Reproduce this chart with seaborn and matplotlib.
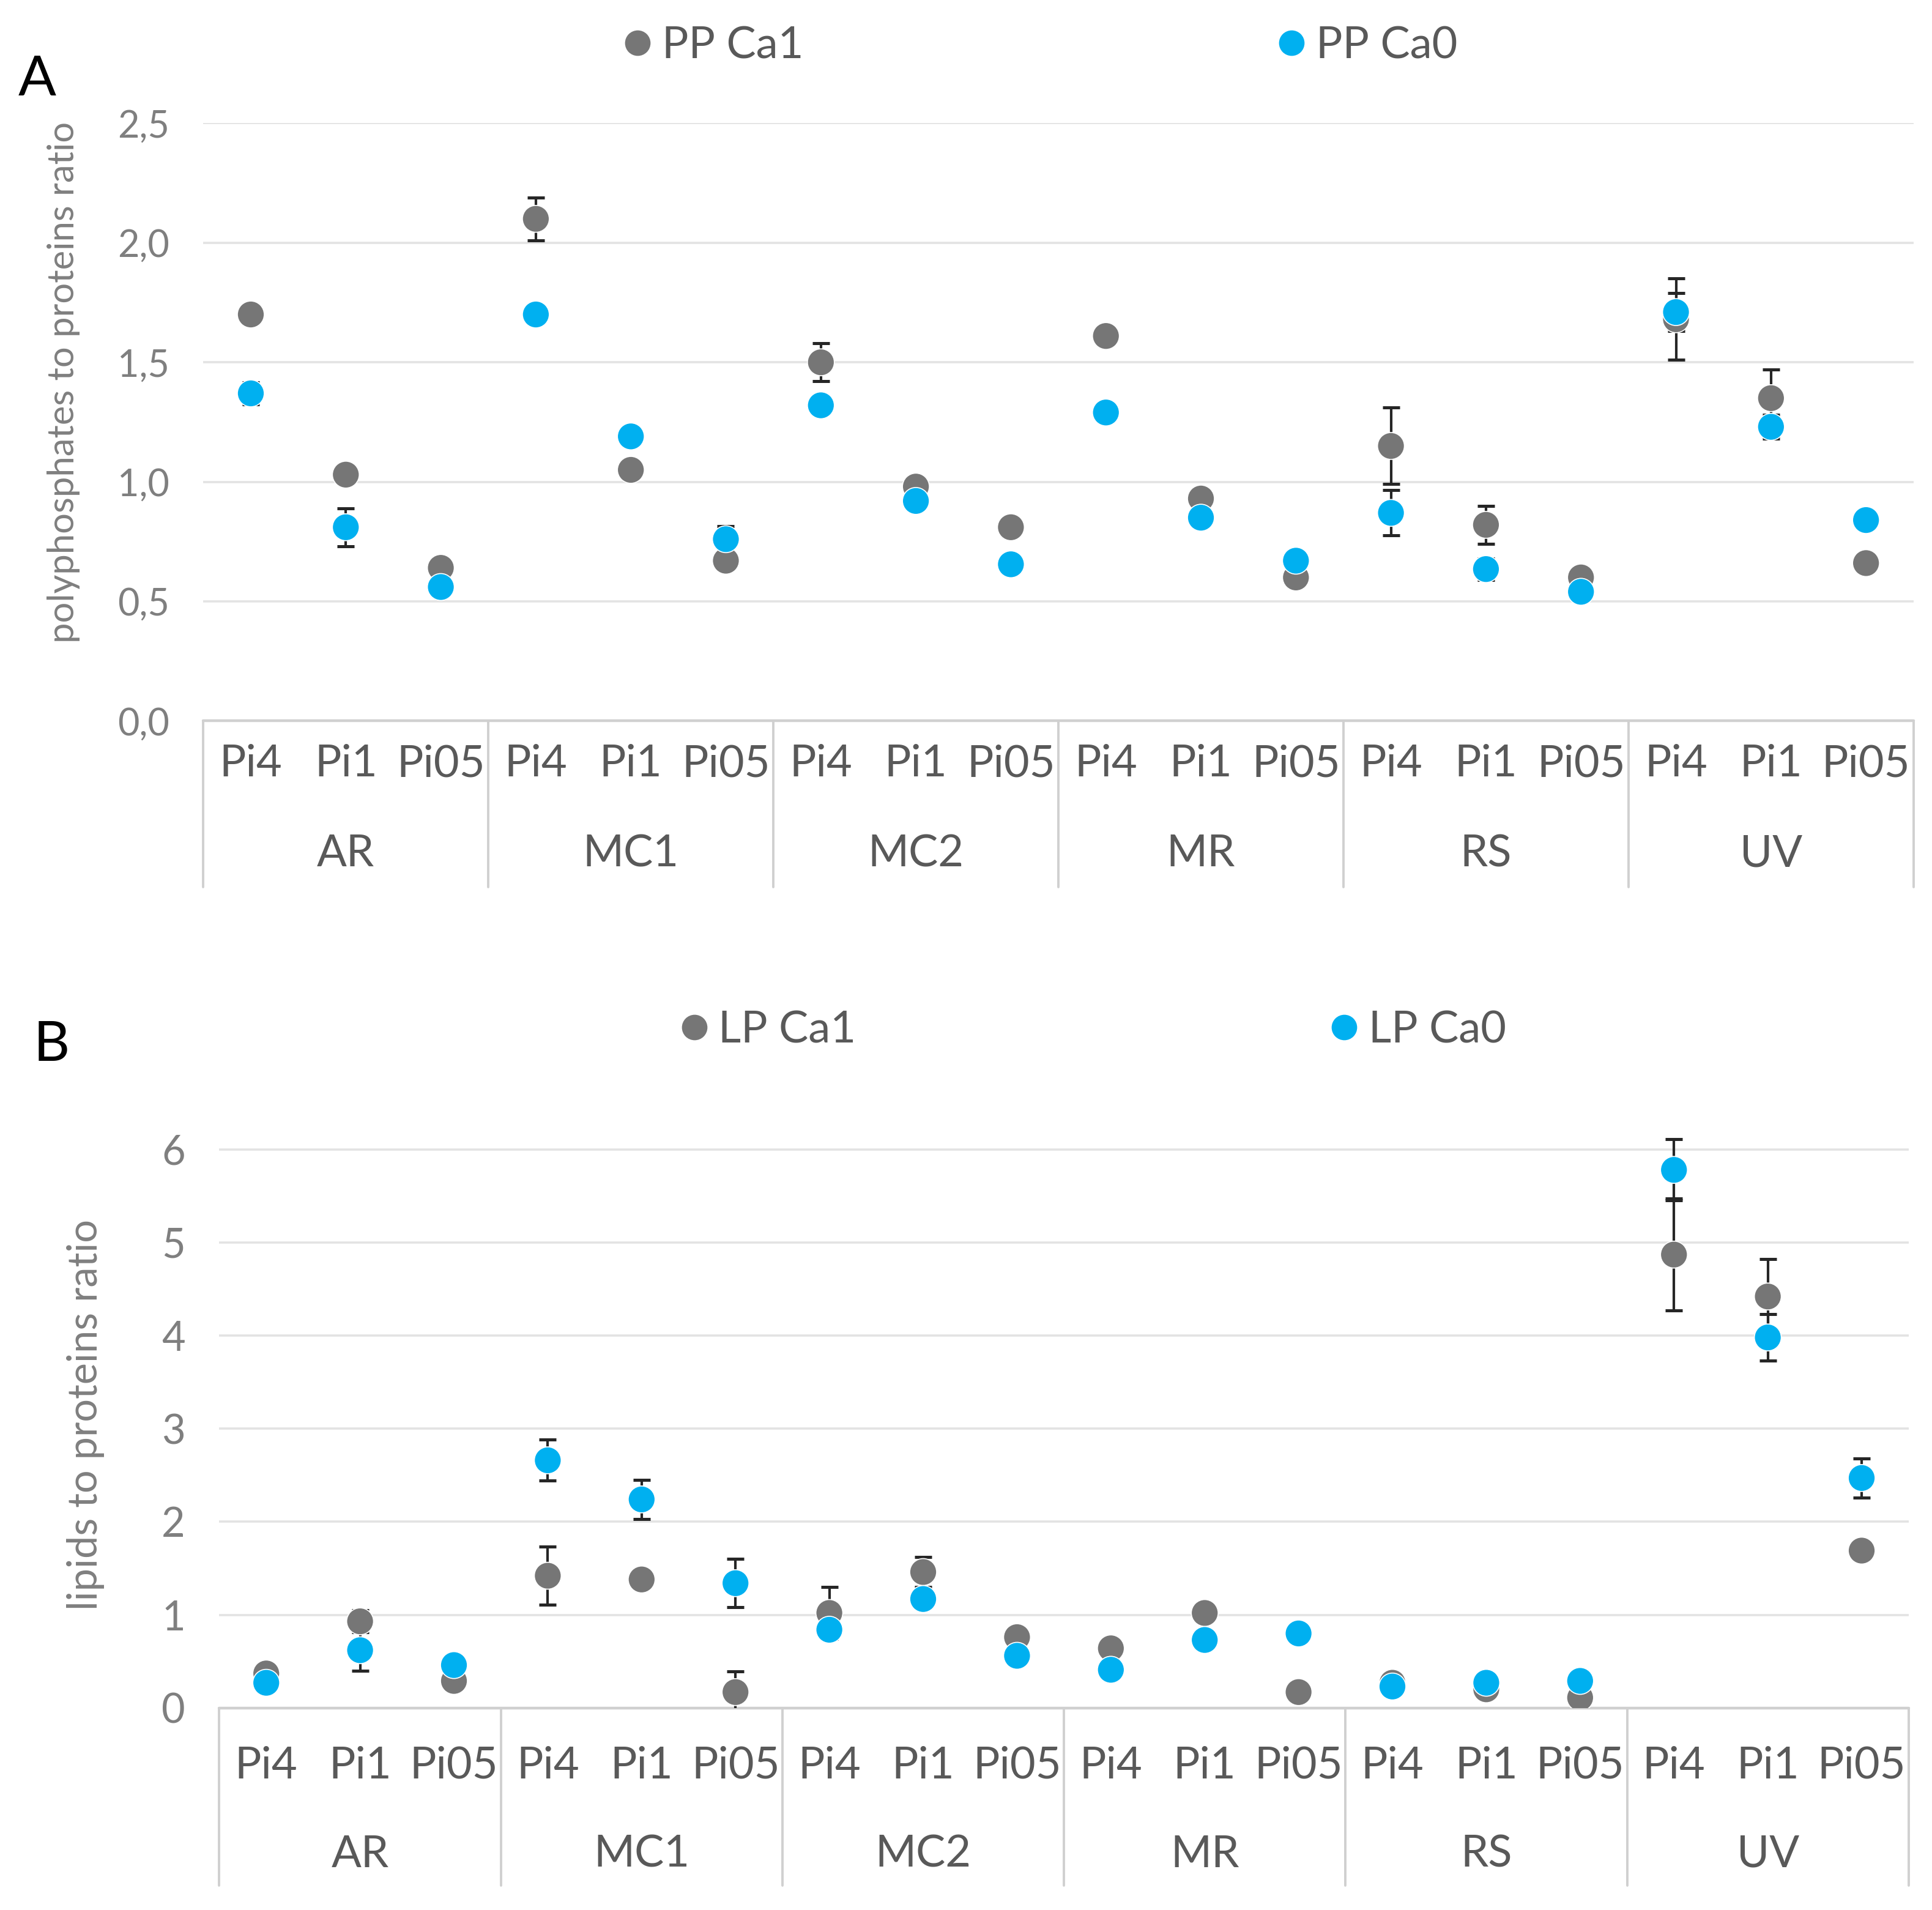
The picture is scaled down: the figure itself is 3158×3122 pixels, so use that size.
import numpy as np
import pandas as pd
import matplotlib
matplotlib.use("Agg")
import matplotlib.pyplot as plt
from matplotlib.lines import Line2D
import seaborn as sns

# categories
groups = ["AR", "MC1", "MC2", "MR", "RS", "UV"]
levels = ["Pi4", "Pi1", "Pi05"]

# panel A: polyphosphates to proteins ratio
pp_ca1 = [1.70, 1.03, 0.64, 2.10, 1.05, 0.67, 1.50, 0.98, 0.81,
          1.61, 0.93, 0.60, 1.15, 0.82, 0.60, 1.68, 1.35, 0.66]
pp_ca1_err = [0.03, 0.00, 0.00, 0.09, 0.00, 0.03, 0.08, 0.02, 0.02,
              0.00, 0.00, 0.00, 0.16, 0.08, 0.02, 0.17, 0.12, 0.00]
pp_ca0 = [1.37, 0.81, 0.56, 1.70, 1.19, 0.76, 1.32, 0.92, 0.655,
          1.29, 0.85, 0.67, 0.87, 0.635, 0.54, 1.71, 1.23, 0.84]
pp_ca0_err = [0.045, 0.08, 0.00, 0.00, 0.03, 0.055, 0.00, 0.00, 0.00,
              0.00, 0.00, 0.00, 0.095, 0.045, 0.00, 0.08, 0.05, 0.02]

# panel B: lipids to proteins ratio
lp_ca1 = [0.37, 0.93, 0.29, 1.42, 1.38, 0.17, 1.02, 1.46, 0.76,
          0.64, 1.02, 0.17, 0.27, 0.20, 0.11, 4.87, 4.42, 1.69]
lp_ca1_err = [0.05, 0.12, 0.00, 0.31, 0.05, 0.22, 0.28, 0.16, 0.03,
              0.00, 0.00, 0.00, 0.00, 0.00, 0.00, 0.60, 0.40, 0.00]
lp_ca0 = [0.27, 0.62, 0.46, 2.66, 2.24, 1.34, 0.84, 1.17, 0.56,
          0.41, 0.73, 0.80, 0.23, 0.27, 0.29, 5.78, 3.98, 2.47]
lp_ca0_err = [0.00, 0.22, 0.00, 0.22, 0.21, 0.26, 0.00, 0.00, 0.00,
              0.00, 0.00, 0.00, 0.00, 0.00, 0.00, 0.33, 0.25, 0.21]

GREY = "#767676"
CYAN = "#00b0f0"
TXT = "#595959"
TICK = "#7f7f7f"


def long_table(ca1, ca1_err, ca0, ca0_err, names):
    n = len(groups) * len(levels)
    rows = []
    for name, vals, errs in [(names[0], ca1, ca1_err), (names[1], ca0, ca0_err)]:
        for i in range(n):
            rows.append({"slot": i,
                         "group": groups[i // len(levels)],
                         "level": levels[i % len(levels)],
                         "series": name, "value": vals[i], "err": errs[i]})
    return pd.DataFrame(rows)


sns.set_theme(style="white")
plt.rcParams["font.family"] = ["Lato", "DejaVu Sans"]

fig = plt.figure(figsize=(15.79, 15.61), dpi=200)
W, H = 1568.0, 1550.0  # reference layout units


def draw_panel(ax, df, names, ymax, yticks, ylabels, ylabel, sub_y, grp_y, box_y,
               lab_xy, tick_fs, lab_fs):
    for name in names:
        d = df[df.series == name]
        ax.errorbar(d.slot, d.value, yerr=d.err, fmt="none", ecolor="#262626",
                    elinewidth=1.5, capsize=5, capthick=1.8, zorder=2)
    sns.scatterplot(data=df, x="slot", y="value", hue="series",
                    palette={names[0]: GREY, names[1]: CYAN}, s=250,
                    edgecolor="white", linewidth=0.6, legend=False, ax=ax,
                    zorder=3)
    n = len(groups) * len(levels)
    ax.set_xlim(-0.5, n - 0.5)
    ax.set_ylim(0, ymax)
    ax.set_yticks(yticks)
    ax.set_yticklabels(ylabels, fontsize=tick_fs, color=TICK)
    ax.tick_params(axis="y", length=0, pad=20)
    ax.set_xticks([])
    ax.set_xlabel("")
    ax.yaxis.grid(True, color="#e3e3e3", lw=1.3)
    ax.set_axisbelow(True)
    for s in ax.spines.values():
        s.set_visible(False)
    ax.set_ylabel(ylabel, fontsize=lab_fs, color=TICK)
    ax.yaxis.set_label_coords(*lab_xy)

    tr = ax.get_xaxis_transform()
    ax.plot([-0.5, n - 0.5], [0, 0], transform=tr, color="#d0d0d0", lw=1.6,
            clip_on=False, zorder=1)
    for k in range(len(groups) + 1):
        xb = -0.5 + k * len(levels)
        ax.plot([xb, xb], [0, box_y], transform=tr, color="#d0d0d0", lw=1.4,
                clip_on=False)
    for i in range(n):
        ax.text(i, sub_y, levels[i % len(levels)], transform=tr, ha="center",
                va="center", fontsize=26, color=TXT)
    for g, name in enumerate(groups):
        ax.text(g * len(levels) + 1, grp_y, name, transform=tr, ha="center",
                va="center", fontsize=26, color=TXT)


def legend(names, x, y):
    handles = [Line2D([], [], ls="none", marker="o", ms=14, mfc=GREY, mec=GREY),
               Line2D([], [], ls="none", marker="o", ms=14, mfc=CYAN, mec=CYAN)]
    lg = fig.legend(handles, names, loc="center left", bbox_to_anchor=(x, y),
                    ncol=2, frameon=False, fontsize=26, handlelength=0.8,
                    handletextpad=0.15, columnspacing=10.65, borderpad=0,
                    borderaxespad=0)
    for t in lg.get_texts():
        t.set_color(TXT)


# panel A
axA = fig.add_axes([165 / W, 1 - 585 / H, 1388 / W, 485 / H])
names_a = ["PP Ca1", "PP Ca0"]
df_a = long_table(pp_ca1, pp_ca1_err, pp_ca0, pp_ca0_err, names_a)
ticks_a = [0, 0.5, 1.0, 1.5, 2.0, 2.5]
draw_panel(axA, df_a, names_a, 2.5, ticks_a,
           [f"{t:.1f}".replace(".", ",") for t in ticks_a],
           "polyphosphates to proteins ratio",
           sub_y=-35 / 485, grp_y=-108 / 485, box_y=-135 / 485,
           lab_xy=(-100 / 1388, 275 / 485), tick_fs=22, lab_fs=21.5)
legend(names_a, 503 / W, 1 - 37 / H)
fig.text(30 / W, 1 - 65 / H, "A", fontsize=33, ha="center", va="center",
         color="black")

# panel B
axB = fig.add_axes([178 / W, 1 - 1386 / H, 1371 / W, 491 / H])
names_b = ["LP Ca1", "LP Ca0"]
df_b = long_table(lp_ca1, lp_ca1_err, lp_ca0, lp_ca0_err, names_b)
ticks_b = [0, 1, 2, 3, 4, 5, 6]
draw_panel(axB, df_b, names_b, 6.5, ticks_b, [str(t) for t in ticks_b],
           "lipids to proteins ratio",
           sub_y=-47 / 491, grp_y=-119 / 491, box_y=-144 / 491,
           lab_xy=(-93 / 1371, 238 / 491), tick_fs=24, lab_fs=24)
legend(names_b, 549 / W, 1 - 836 / H)
fig.text(42 / W, 1 - 848 / H, "B", fontsize=33, ha="center", va="center",
         color="black")

fig.savefig("out.png", dpi=200)
